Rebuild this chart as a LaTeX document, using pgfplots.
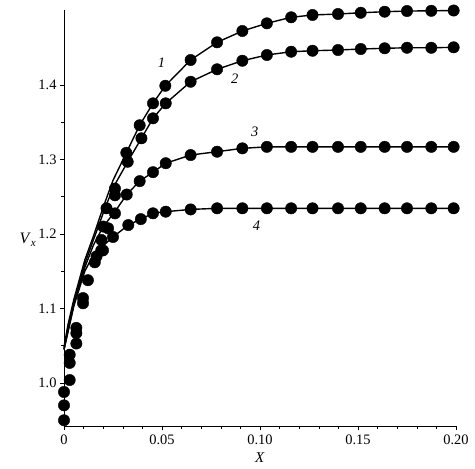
\documentclass[border=0pt]{standalone}
\usepackage{fontspec}
\setmainfont{Liberation Serif}
\usepackage{pgfplots}
\pgfplotsset{compat=1.18}
\begin{document}
\begin{tikzpicture}
\begin{axis}[
 scale only axis, width=392bp, height=416bp,
 xmin=0, xmax=0.2, ymin=0.9423, ymax=1.5007,
 axis lines=left, axis line style={-, line width=1pt},
 xtick={0,0.05,0.1,0.15,0.2}, xticklabels={0,0.05,0.10,0.15,0.20},
 ytick={1.0,1.1,1.2,1.3,1.4}, yticklabels={1.0,1.1,1.2,1.3,1.4},
 minor x tick num=4, minor y tick num=1,
 tick align=outside, major tick length=4bp, minor tick length=2.5bp,
 tick style={black, line width=0.6pt},
 tick label style={font=\fontsize{14.5}{16}\selectfont},
 xticklabel style={yshift=-1bp},
 /pgf/number format/assume math mode=true,
 clip=false,
 xlabel={\textit{X}}, ylabel={\textit{V}\textsubscript{\textit{x}}},
 xlabel style={at={(axis description cs:0.5,-0.075)}, anchor=center, font=\fontsize{15}{17}\selectfont},
 ylabel style={at={(axis description cs:-0.092,0.447)}, anchor=center, rotate=-90, font=\fontsize{16}{18}\selectfont},
]
% lines
\addplot[black, line width=1.4pt] coordinates {(0,1.048)(0.002,1.078)(0.005,1.112)(0.0106,1.165)(0.015,1.197)(0.02,1.236)(0.025,1.272)(0.0318,1.309)(0.0386,1.346)(0.0454,1.3754)(0.0517,1.399)(0.0646,1.4336)(0.0781,1.4573)(0.0910,1.4725)(0.1035,1.4828)(0.1159,1.4909)(0.1268,1.494)(0.1398,1.4953)(0.1514,1.497)(0.1636,1.4984)(0.175,1.4993)(0.1874,1.4996)(0.1988,1.5)};
\addplot[black, line width=1.4pt] coordinates {(0,1.045)(0.002,1.072)(0.005,1.106)(0.0106,1.16)(0.015,1.192)(0.02,1.228)(0.025,1.262)(0.0325,1.297)(0.0395,1.3285)(0.0454,1.3553)(0.0519,1.3754)(0.0646,1.4044)(0.0781,1.4211)(0.091,1.4326)(0.1035,1.4403)(0.1159,1.4447)(0.1268,1.446)(0.1398,1.447)(0.1514,1.4483)(0.1636,1.4493)(0.175,1.45)(0.1874,1.45)(0.1988,1.4506)};
\addplot[black, line width=1.4pt] coordinates {(0,1.045)(0.005,1.105)(0.0106,1.155)(0.015,1.185)(0.02,1.21)(0.026,1.23)(0.032,1.253)(0.0386,1.271)(0.0454,1.283)(0.0519,1.295)(0.0646,1.306)(0.0781,1.3105)(0.091,1.315)(0.1035,1.317)(0.1159,1.317)(0.1268,1.317)(0.1398,1.317)(0.1514,1.317)(0.1636,1.317)(0.175,1.317)(0.1874,1.317)(0.1988,1.317)};
\addplot[black, line width=1.4pt] coordinates {(0,1.045)(0.005,1.103)(0.0106,1.15)(0.015,1.172)(0.019,1.182)(0.025,1.196)(0.0328,1.212)(0.0392,1.22)(0.0454,1.2278)(0.0519,1.23)(0.0646,1.233)(0.0781,1.2345)(0.091,1.2345)(0.1035,1.2345)(0.1159,1.2345)(0.1268,1.2345)(0.1398,1.2345)(0.1514,1.2345)(0.1636,1.2345)(0.175,1.2345)(0.1874,1.2345)(0.1988,1.2345)};
% markers
\addplot[only marks, mark=*, mark size=5.7bp, mark options={fill=black, draw=black}] coordinates {(0,0.950)(0,0.970)(0,0.988)(0.0029,1.004)(0.0029,1.027)(0.0029,1.038)(0.0063,1.053)(0.0063,1.067)(0.0063,1.074)(0.0097,1.107)(0.0097,1.114)(0.0122,1.138)(0.0157,1.162)(0.0166,1.17)(0.0191,1.192)(0.0199,1.178)};
\addplot[only marks, mark=*, mark size=5.7bp, mark options={fill=black, draw=black}] coordinates {(0.0217,1.2345)(0.026,1.261)(0.0318,1.309)(0.0386,1.346)(0.0454,1.3754)(0.0517,1.399)(0.0646,1.4336)(0.0781,1.4573)(0.0910,1.4725)(0.1035,1.4828)(0.1159,1.4909)(0.1268,1.494)(0.1398,1.4953)(0.1514,1.497)(0.1636,1.4984)(0.175,1.4993)(0.1874,1.4996)(0.1988,1.5)};
\addplot[only marks, mark=*, mark size=5.7bp, mark options={fill=black, draw=black}] coordinates {(0.0225,1.2077)(0.026,1.252)(0.0325,1.297)(0.0395,1.3285)(0.0454,1.3553)(0.0519,1.3754)(0.0646,1.4044)(0.0781,1.4211)(0.091,1.4326)(0.1035,1.4403)(0.1159,1.4447)(0.1268,1.446)(0.1398,1.447)(0.1514,1.4483)(0.1636,1.4493)(0.175,1.45)(0.1874,1.45)(0.1988,1.4506)};
\addplot[only marks, mark=*, mark size=5.7bp, mark options={fill=black, draw=black}] coordinates {(0.02,1.21)(0.026,1.2277)(0.032,1.253)(0.0386,1.271)(0.0454,1.283)(0.0519,1.295)(0.0646,1.306)(0.0781,1.3105)(0.091,1.315)(0.1035,1.317)(0.1159,1.317)(0.1268,1.317)(0.1398,1.317)(0.1514,1.317)(0.1636,1.317)(0.175,1.317)(0.1874,1.317)(0.1988,1.317)};
\addplot[only marks, mark=*, mark size=5.7bp, mark options={fill=black, draw=black}] coordinates {(0.019,1.178)(0.025,1.196)(0.0328,1.212)(0.0392,1.22)(0.0454,1.2278)(0.0519,1.23)(0.0646,1.233)(0.0781,1.2345)(0.091,1.2345)(0.1035,1.2345)(0.1159,1.2345)(0.1268,1.2345)(0.1398,1.2345)(0.1514,1.2345)(0.1636,1.2345)(0.175,1.2345)(0.1874,1.2345)(0.1988,1.2345)};
% curve labels
\node[font=\fontsize{14.5}{16}\selectfont\itshape] at (axis cs:0.0497,1.4295) {1};
\node[font=\fontsize{14.5}{16}\selectfont\itshape] at (axis cs:0.0871,1.409) {2};
\node[font=\fontsize{14.5}{16}\selectfont\itshape] at (axis cs:0.0973,1.337) {3};
\node[font=\fontsize{14.5}{16}\selectfont\itshape] at (axis cs:0.0982,1.2107) {4};
\end{axis}
\path ([xshift=-64bp,yshift=-43bp]current axis.south west) rectangle ([xshift=19bp,yshift=10bp]current axis.north east);
\end{tikzpicture}
\end{document}
